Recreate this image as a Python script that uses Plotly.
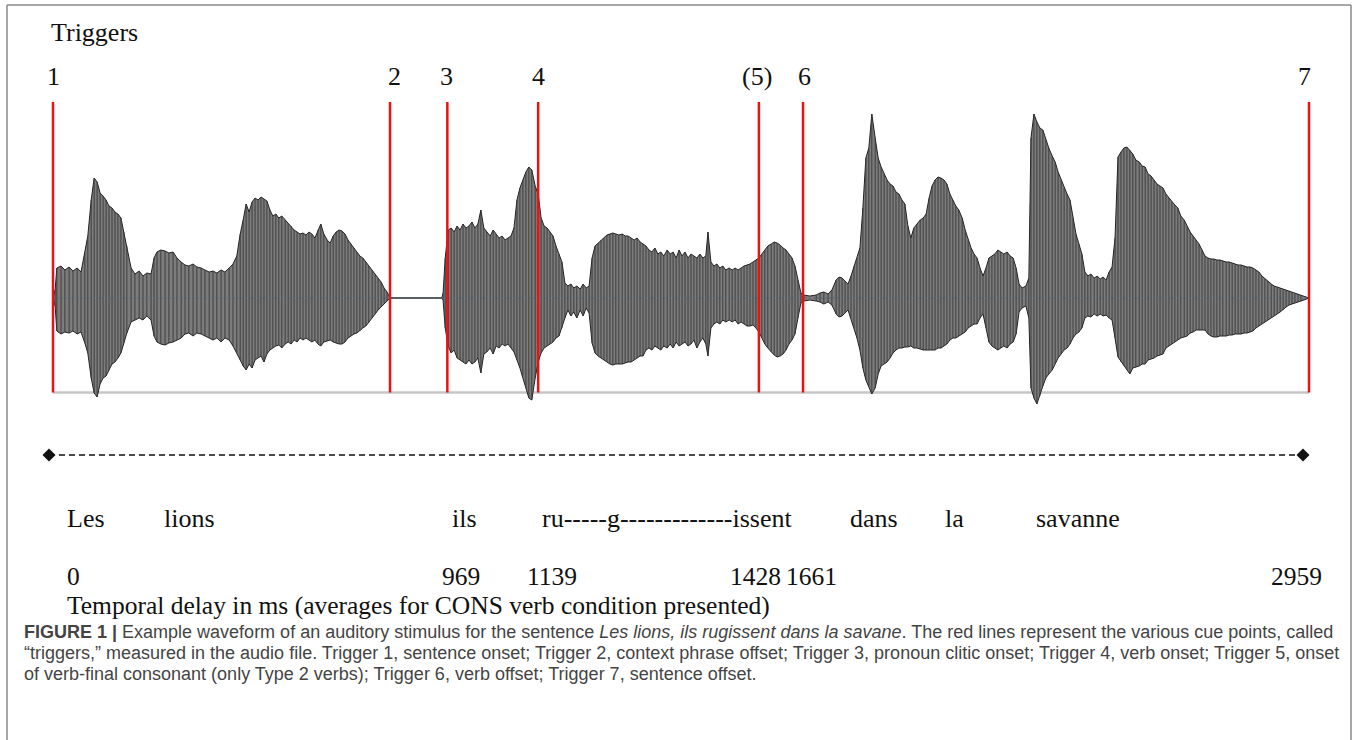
import plotly.graph_objects as go

W, H = 1357, 740

# ---------------- data ----------------
trigger_labels = ["1", "2", "3", "4", "(5)", "6", "7"]
trigger_ms = [0, 794, 929, 1143, 1663, 1767, 2959]

word_labels = ["Les", "lions", "ils", "ru-----g-------------issent", "dans", "la", "savanne"]
delay_labels = ["0", "969", "1139", "1428", "1661", "2959"]

# waveform envelope (time in ms, amplitude in arbitrary units)
wave_ms = [
    0, 5, 9, 19, 28, 38, 47, 57, 66, 75,
    82, 90, 97, 104, 111, 118, 125, 132, 139, 146,
    153, 160, 167, 174, 184, 193, 203, 212, 221, 231,
    238, 245, 254, 264, 273, 283, 292, 302, 311, 320,
    330, 339, 349, 358, 368, 377, 386, 396, 405, 415,
    424, 433, 441, 448, 455, 462, 469, 476, 483, 490,
    497, 504, 511, 518, 525, 532, 539, 547, 554, 561,
    568, 575, 582, 589, 596, 603, 610, 617, 624, 631,
    638, 646, 653, 660, 667, 674, 681, 688, 695, 702,
    709, 716, 723, 730, 737, 744, 752, 759, 766, 773,
    780, 787, 794, 916, 919, 924, 931, 938, 945, 952,
    959, 966, 973, 980, 987, 994, 1001, 1008, 1015, 1022,
    1030, 1037, 1044, 1051, 1058, 1065, 1072, 1079, 1086, 1093,
    1100, 1107, 1114, 1121, 1128, 1136, 1143, 1150, 1157, 1164,
    1171, 1178, 1185, 1192, 1199, 1206, 1213, 1220, 1227, 1234,
    1242, 1249, 1256, 1263, 1270, 1277, 1284, 1291, 1298, 1305,
    1312, 1319, 1326, 1333, 1341, 1348, 1355, 1362, 1369, 1376,
    1383, 1390, 1397, 1404, 1411, 1418, 1425, 1432, 1439, 1447,
    1454, 1461, 1468, 1475, 1482, 1489, 1496, 1503, 1510, 1517,
    1524, 1531, 1538, 1543, 1550, 1557, 1564, 1571, 1578, 1585,
    1593, 1600, 1607, 1614, 1621, 1628, 1635, 1642, 1649, 1656,
    1663, 1670, 1677, 1684, 1692, 1699, 1706, 1713, 1720, 1727,
    1734, 1741, 1748, 1755, 1762, 1769, 1783, 1798, 1807, 1816,
    1826, 1835, 1845, 1852, 1859, 1866, 1873, 1880, 1887, 1894,
    1901, 1908, 1915, 1922, 1929, 1937, 1944, 1951, 1958, 1965,
    1972, 1979, 1986, 1993, 2000, 2007, 2014, 2021, 2028, 2035,
    2043, 2050, 2057, 2064, 2071, 2078, 2085, 2092, 2099, 2106,
    2113, 2120, 2127, 2134, 2142, 2149, 2156, 2163, 2170, 2177,
    2184, 2191, 2198, 2205, 2212, 2219, 2226, 2233, 2240, 2248,
    2255, 2262, 2269, 2276, 2283, 2292, 2299, 2304, 2311, 2318,
    2325, 2332, 2339, 2346, 2354, 2361, 2368, 2375, 2382, 2389,
    2396, 2403, 2410, 2417, 2424, 2431, 2438, 2445, 2453, 2460,
    2467, 2474, 2481, 2488, 2495, 2502, 2509, 2516, 2523, 2530,
    2537, 2544, 2551, 2559, 2566, 2573, 2580, 2587, 2594, 2601,
    2608, 2615, 2622, 2629, 2636, 2643, 2650, 2657, 2665, 2672,
    2679, 2686, 2693, 2700, 2707, 2714, 2721, 2728, 2735, 2742,
    2749, 2756, 2764, 2771, 2778, 2785, 2792, 2799, 2806, 2813,
    2820, 2827, 2834, 2841, 2848, 2855, 2862, 2870, 2877, 2884,
    2891, 2898, 2905, 2912, 2919, 2926, 2933, 2940, 2947, 2959,
]
wave_upper = [
    0, 8, 30, 32, 28, 31, 27, 30, 26, 45,
    62, 98, 120, 116, 105, 102, 98, 92, 90, 86,
    84, 80, 66, 52, 30, 24, 27, 22, 25, 24,
    40, 46, 48, 47, 45, 46, 40, 36, 33, 32,
    34, 31, 30, 28, 26, 27, 25, 28, 26, 30,
    34, 42, 64, 78, 94, 86, 96, 100, 98, 101,
    99, 97, 88, 82, 84, 80, 82, 78, 75, 72,
    68, 66, 64, 65, 63, 66, 64, 60, 68, 74,
    64, 58, 55, 62, 66, 68, 67, 64, 58, 54,
    50, 46, 42, 40, 36, 32, 28, 24, 20, 16,
    10, 6, 0, 0, 5, 40, 68, 70, 66, 72,
    68, 74, 70, 72, 76, 70, 74, 88, 70, 66,
    62, 68, 64, 60, 62, 58, 60, 62, 70, 98,
    110, 118, 126, 131, 128, 112, 104, 80, 72, 70,
    66, 62, 52, 44, 36, 15, 12, 14, 10, 12,
    9, 14, 10, 12, 40, 52, 55, 58, 60, 63,
    64, 65, 64, 63, 64, 62, 62, 60, 58, 60,
    56, 54, 52, 48, 46, 50, 44, 46, 42, 48,
    44, 46, 40, 48, 42, 46, 40, 44, 42, 40,
    44, 40, 42, 66, 36, 32, 34, 30, 32, 28,
    30, 28, 30, 28, 30, 32, 33, 34, 36, 38,
    40, 44, 48, 52, 54, 56, 55, 53, 50, 48,
    44, 40, 32, 18, 5, 3, 2, 3, 5, 6,
    4, 8, 18, 21, 20, 17, 14, 22, 32, 40,
    50, 90, 140, 150, 184, 160, 140, 131, 124, 118,
    114, 112, 106, 104, 98, 94, 72, 60, 70, 74,
    78, 80, 84, 100, 112, 118, 121, 120, 118, 114,
    104, 98, 92, 88, 80, 68, 58, 50, 44, 40,
    30, 22, 30, 40, 42, 44, 48, 46, 44, 46,
    42, 40, 30, 14, 10, 12, 20, 160, 184, 176,
    170, 168, 158, 150, 142, 136, 126, 118, 110, 104,
    98, 80, 64, 54, 44, 26, 22, 24, 20, 22,
    19, 21, 18, 26, 31, 60, 141, 146, 150, 151,
    148, 144, 138, 136, 132, 131, 124, 122, 118, 114,
    112, 110, 104, 100, 96, 93, 90, 82, 78, 72,
    66, 62, 58, 54, 48, 42, 40, 39, 39, 38,
    38, 37, 36, 36, 35, 34, 33, 33, 32, 31,
    31, 30, 28, 26, 22, 19, 17, 14, 12, 11,
    10, 9, 8, 7, 6, 5, 4, 3, 2, 0,
]
wave_lower = [
    0, -8, -33, -36, -34, -35, -33, -36, -34, -45,
    -55, -80, -95, -99, -86, -80, -78, -72, -66, -64,
    -60, -55, -45, -35, -24, -22, -20, -22, -18, -22,
    -38, -44, -46, -47, -45, -44, -42, -40, -36, -35,
    -38, -35, -36, -38, -40, -42, -40, -44, -40, -42,
    -48, -55, -62, -68, -72, -66, -70, -62, -60, -58,
    -64, -56, -52, -50, -48, -47, -50, -46, -44, -46,
    -42, -44, -40, -42, -40, -42, -44, -42, -46, -48,
    -44, -43, -42, -44, -45, -46, -46, -44, -40, -38,
    -36, -35, -33, -30, -28, -25, -20, -16, -12, -8,
    -5, -3, 0, 0, -2, -30, -48, -55, -52, -60,
    -62, -64, -66, -62, -66, -64, -60, -75, -56, -54,
    -50, -56, -48, -50, -46, -48, -46, -50, -54, -62,
    -70, -78, -90, -100, -102, -80, -64, -55, -50, -48,
    -46, -44, -40, -38, -30, -20, -12, -18, -14, -20,
    -12, -18, -10, -15, -45, -55, -58, -60, -62, -64,
    -66, -67, -66, -66, -66, -65, -64, -64, -62, -60,
    -58, -58, -52, -50, -52, -48, -50, -52, -48, -50,
    -46, -50, -44, -48, -46, -44, -48, -46, -42, -50,
    -44, -40, -46, -58, -30, -26, -24, -26, -22, -24,
    -22, -24, -22, -26, -24, -26, -28, -28, -27, -30,
    -34, -40, -46, -50, -54, -57, -59, -58, -56, -52,
    -46, -42, -36, -20, -5, -3, -2, -3, -4, -6,
    -4, -7, -16, -19, -18, -15, -12, -20, -30, -40,
    -52, -70, -82, -88, -96, -90, -76, -68, -66, -64,
    -60, -55, -52, -50, -50, -49, -49, -48, -50, -50,
    -51, -52, -52, -52, -52, -52, -50, -50, -48, -46,
    -42, -40, -40, -38, -36, -34, -30, -28, -26, -26,
    -20, -16, -30, -44, -48, -50, -52, -50, -48, -50,
    -46, -44, -36, -14, -10, -8, -20, -90, -100, -106,
    -98, -88, -80, -76, -72, -66, -60, -56, -52, -50,
    -46, -40, -36, -34, -30, -20, -18, -19, -16, -18,
    -16, -18, -17, -20, -22, -40, -59, -64, -68, -72,
    -76, -70, -69, -68, -66, -66, -62, -61, -60, -58,
    -57, -56, -50, -48, -46, -44, -42, -40, -39, -38,
    -35, -34, -32, -32, -32, -32, -36, -38, -39, -39,
    -38, -38, -38, -37, -37, -36, -36, -36, -35, -35,
    -34, -33, -30, -28, -26, -24, -22, -20, -18, -16,
    -14, -12, -9, -7, -6, -5, -4, -3, -2, 0,
]
assert len(wave_ms) == len(wave_upper) == len(wave_lower)

caption_lines = [
    "<b>FIGURE 1 |</b> Example waveform of an auditory stimulus for the sentence "
    "<i>Les lions, ils rugissent dans la savane</i>. The red lines represent the various cue points, called",
    "\u201ctriggers,\u201d measured in the audio file. Trigger 1, sentence onset; Trigger 2, context phrase offset; "
    "Trigger 3, pronoun clitic onset; Trigger 4, verb onset; Trigger 5, onset",
    "of verb-final consonant (only Type 2 verbs); Trigger 6, verb offset; Trigger 7, sentence offset.",
]

# ---------------- layout positions (pixels) ----------------
X_START_PX, X_END_PX = 53, 1309        # pixel columns of trigger 1 and trigger 7
CENTER_PX = 298                        # waveform zero line
trigger_label_shift_px = [0, 4, -1, 0, -2, 1, -5]
word_left_px = [65, 162, 450, 540, 848, 943, 1034]
delay_left_px = [65, 440, 525, 728, 784, 1269]
RED_TOP_AMP, BASE_AMP = 196, -94.5

ms_per_px = (trigger_ms[-1] - trigger_ms[0]) / (X_END_PX - X_START_PX)
x_range = [trigger_ms[0] - X_START_PX * ms_per_px, trigger_ms[0] + (W - X_START_PX) * ms_per_px]
y_range = [-(H - CENTER_PX), CENTER_PX]


def px_to_ms(p):
    return trigger_ms[0] + (p - X_START_PX) * ms_per_px


def px_to_amp(py_):
    return CENTER_PX - py_


def px(x):
    return x / W


def py(y):
    return 1 - y / H


SERIF = "Liberation Serif, Times New Roman, serif"
SANS = "Liberation Sans, Arial, sans-serif"
FS = 26

fig = go.Figure()

# grey baseline under waveform
fig.add_trace(go.Scatter(x=[trigger_ms[0], trigger_ms[-1]], y=[BASE_AMP, BASE_AMP], mode="lines",
                         line=dict(color="#c6c6c6", width=2.5), hoverinfo="skip"))

# waveform envelope
fig.add_trace(go.Scatter(x=wave_ms + wave_ms[::-1], y=wave_upper + wave_lower[::-1],
                         mode="lines", fill="toself", fillcolor="#7c7c7c",
                         line=dict(color="#222222", width=1), hoverinfo="skip"))

# pitch-period strokes
vx, vy = [], []
for t, u, l in zip(wave_ms, wave_upper, wave_lower):
    if u - l > 4:
        vx += [t, t, None]
        vy += [l, u, None]
fig.add_trace(go.Scatter(x=vx, y=vy, mode="lines", line=dict(color="#383838", width=0.9), hoverinfo="skip"))

# center dotted line
fig.add_trace(go.Scatter(x=[trigger_ms[0], trigger_ms[-1]], y=[0, 0], mode="lines",
                         line=dict(color="#4f6a85", width=1, dash="2px,2px"), hoverinfo="skip"))

# red trigger lines
rx, ry = [], []
for t in trigger_ms:
    rx += [t, t, None]
    ry += [RED_TOP_AMP, BASE_AMP, None]
fig.add_trace(go.Scatter(x=rx, y=ry, mode="lines", line=dict(color="#ee1111", width=2.5), hoverinfo="skip"))

# timeline dashed line with diamonds
tl_x = [px_to_ms(49), px_to_ms(1303)]
tl_y = [px_to_amp(455), px_to_amp(455)]
fig.add_trace(go.Scatter(x=tl_x, y=tl_y, mode="lines+markers",
                         line=dict(color="#111111", width=1.3, dash="6px,4px"),
                         marker=dict(symbol="diamond", size=10, color="#111111"), hoverinfo="skip"))

ann = []
ann.append(dict(x=px(49), y=py(32.5), xref="paper", yref="paper", text="Triggers", showarrow=False,
                xanchor="left", yanchor="middle", font=dict(family=SERIF, size=FS, color="#111")))
for lab, t, sh in zip(trigger_labels, trigger_ms, trigger_label_shift_px):
    ann.append(dict(x=t, y=py(76.5), xref="x", yref="paper", text=lab, showarrow=False, xshift=sh,
                    xanchor="center", yanchor="middle", font=dict(family=SERIF, size=FS, color="#111")))
for lab, xl in zip(word_labels, word_left_px):
    ann.append(dict(x=px(xl), y=py(518.5), xref="paper", yref="paper", text=lab, showarrow=False,
                    xanchor="left", yanchor="middle", font=dict(family=SERIF, size=FS, color="#111")))
for lab, xl in zip(delay_labels, delay_left_px):
    ann.append(dict(x=px(xl), y=py(576), xref="paper", yref="paper", text=lab, showarrow=False,
                    xanchor="left", yanchor="middle", font=dict(family=SERIF, size=25.5, color="#111")))
ann.append(dict(x=px(65), y=py(605), xref="paper", yref="paper",
                text="Temporal delay in ms (averages for CONS verb condition presented)", showarrow=False,
                xanchor="left", yanchor="middle", font=dict(family=SERIF, size=25.5, color="#111")))
for i, line in enumerate(caption_lines):
    ann.append(dict(x=px(22), y=py(632 + 21 * i), xref="paper", yref="paper", text=line, showarrow=False,
                    xanchor="left", yanchor="middle", align="left",
                    font=dict(family=SANS, size=18, color="#444444")))

shapes = [
    dict(type="line", xref="paper", yref="paper", x0=px(7), x1=px(7), y0=py(5), y1=py(745),
         line=dict(color="#8a8a8a", width=1.5)),
    dict(type="line", xref="paper", yref="paper", x0=px(7), x1=px(1351), y0=py(5), y1=py(5),
         line=dict(color="#8a8a8a", width=1.5)),
    dict(type="line", xref="paper", yref="paper", x0=px(1351), x1=px(1351), y0=py(5), y1=py(745),
         line=dict(color="#8a8a8a", width=1.5)),
]

fig.update_layout(
    width=W, height=H, margin=dict(l=0, r=0, t=0, b=0),
    paper_bgcolor="white", plot_bgcolor="white", showlegend=False,
    xaxis=dict(range=x_range, visible=False, domain=[0, 1], fixedrange=True),
    yaxis=dict(range=y_range, visible=False, domain=[0, 1], fixedrange=True),
    annotations=ann, shapes=shapes,
)

fig.write_html("out.html", config={"displayModeBar": False})
